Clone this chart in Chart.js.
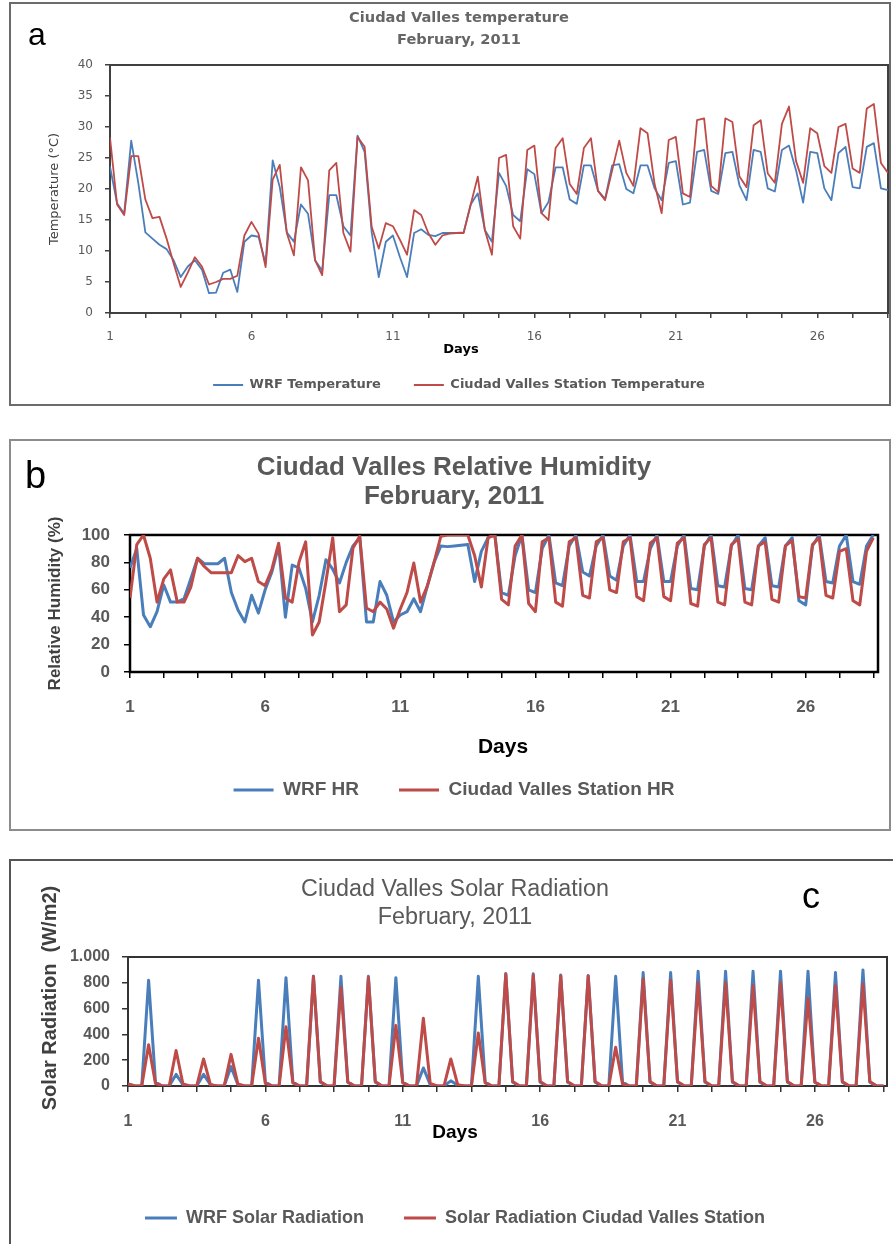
<!DOCTYPE html>
<html>
<head>
<meta charset="utf-8">
<script src="https://cdn.jsdelivr.net/npm/chart.js@4.4.1/dist/chart.umd.min.js"></script>
<style>
  body { margin: 0; background: #fff; }
  .panel { position: absolute; left: 0; width: 893px; }
</style>
</head>
<body>
<div class="panel" style="top:0;height:410px"><canvas id="TempChart"></canvas></div>
<div class="panel" style="top:435px;height:400px"><canvas id="HumChart"></canvas></div>
<div class="panel" style="top:855px;height:389px"><canvas id="RadChart"></canvas></div>
<script>
// 6-hourly samples, Feb 1 00 UTC .. Feb 28 12 UTC (111 values)
const steps = Array.from({length: 111}, (_, i) => i);
const dayTickLabels = ["1", "6", "11", "16", "21", "26"];

const tempWRF = [
  23.6, 17.7, 16, 27.8,   21, 13, 12, 11,   10.3, 8.5, 5.8, 7.5,   8.5, 7, 3.2, 3.3,
  6.5, 7, 3.4, 11.5,   12.5, 12.3, 8, 24.6,   20.3, 13, 11.5, 17.5,   16, 8.5, 6.8, 19,
  19, 14, 12.5, 28.6,   26, 13, 5.8, 11.5,   12.5, 9, 5.8, 12.9,   13.5, 12.6, 12.4, 12.9,
  12.9, 12.9, 13, 17.5,   19.3, 13.4, 11.5, 22.6,   20.5, 15.8, 14.8, 23.2,   22.4, 16.1, 17.9, 23.5,
  23.5, 18.3, 17.6, 23.8,   23.8, 19.7, 18.4, 23.8,   24, 20, 19.3, 23.8,   23.8, 20.1, 18.2, 24.2,
  24.5, 17.5, 17.8, 26,   26.3, 19.7, 19.2, 25.8,   26, 20.6, 18.2, 26.3,   26, 20.1, 19.6, 26.3,
  27, 23, 17.8, 26,   25.8, 20.1, 18.2, 25.8,   26.8, 20.3, 20.1, 26.8,   27.4, 20.1, 19.8
];
const tempStation = [
  28.3, 17.5, 15.8, 25.3,   25.3, 18.3, 15.3, 15.5,   12, 8, 4.2, 6.5,   9, 7.5, 4.6, 5,
  5.5, 5.5, 6, 12.5,   14.7, 12.8, 7.4, 21.5,   23.9, 12.9, 9.3, 23.5,   21.4, 8.5, 6.1, 23,
  24.2, 12.9, 9.9, 28.4,   26.8, 13.9, 10.4, 14.5,   14, 11.8, 9.4, 16.6,   15.8, 12.9, 11, 12.5,
  12.8, 12.9, 12.9, 17.5,   22, 13.4, 9.4, 25,   25.5, 14, 12, 26.3,   27, 16.1, 15, 26.6,
  28.2, 20.8, 19.2, 26.6,   28.2, 19.7, 18.2, 23,   27.8, 22.6, 20.5, 29.8,   29, 20.8, 16.1, 27.9,
  28.4, 19.3, 18.7, 31.1,   31.4, 20.5, 19.5, 31.4,   30.8, 22, 20.3, 30.3,   31.1, 22.5, 21, 30.5,
  33.3, 24.5, 21, 29.8,   29, 23.7, 22.6, 30,   30.5, 23.3, 22.6, 33,   33.7, 24.2, 22.6
];

const humWRF = [
  76, 90, 41.6, 33,   44, 63.5, 51, 51,   53.5, 68, 83, 79,   79, 79, 83, 58,
  45, 36.5, 56, 43,   60, 73, 92, 40,   78, 76, 61, 36.5,   56, 82, 75, 65,
  80, 92, 98, 36.5,   36.5, 66, 56, 36.5,   41.6, 44, 53.5, 44,   62.7, 80, 92, 91.5,
  92, 92.5, 93, 66,   88, 98, 100, 58,   56, 85, 100, 60,   58, 90, 100, 65,
  63, 92, 100, 73,   70, 92, 100, 70,   67, 92, 100, 66,   66, 90, 100, 66,
  66, 92, 100, 61,   60, 92, 100, 63,   62, 92, 100, 61,   60, 92, 98, 63,
  62, 92, 98, 52,   49, 92, 100, 66,   65, 92, 100, 66,   64, 92, 100
];
const humStation = [
  54, 93, 100, 83,   51, 68, 74.5, 51,   51, 62, 83, 77,   72.5, 72.5, 72.5, 72.5,
  85, 80.5, 83, 66,   63, 75, 94, 54,   51, 80, 95, 27,   36.5, 66, 98, 44,
  49, 90.5, 99, 46.7,   44, 51, 46, 32,   46, 58, 79.5, 51,   62.7, 80, 99, 100,
  100, 100, 100, 85,   62, 98, 100, 53,   49, 92, 100, 50,   44, 95, 98, 51,
  48, 95, 98, 56,   54, 95, 98, 60,   58, 95, 98, 55,   52, 94, 98, 55,
  52, 94, 98, 50,   48, 93, 98, 51,   49, 93, 97, 51,   49, 92, 95, 53,
  51, 92, 96, 55,   54, 93, 98, 56,   54, 88, 90, 52,   49, 88, 98
];

const radWRF = [
  15, 0, 0, 820,   30, 0, 0, 90,   10, 0, 0, 90,   10, 0, 0, 150,
  10, 0, 0, 820,   30, 0, 0, 840,   30, 0, 0, 850,   30, 0, 0, 850,
  30, 0, 0, 850,   30, 0, 0, 840,   30, 0, 0, 140,   10, 0, 0, 40,
  5, 0, 0, 850,   30, 0, 0, 870,   30, 0, 0, 870,   30, 0, 0, 860,
  30, 0, 0, 855,   30, 0, 0, 850,   30, 0, 0, 880,   30, 0, 0, 880,
  30, 0, 0, 890,   30, 0, 0, 890,   30, 0, 0, 890,   30, 0, 0, 890,
  30, 0, 0, 890,   30, 0, 0, 880,   30, 0, 0, 900,   30, 0, 0
];
const radStation = [
  15, 0, 0, 320,   20, 0, 0, 275,   15, 0, 0, 210,   10, 0, 0, 245,
  15, 0, 0, 370,   20, 0, 0, 460,   25, 0, 0, 850,   35, 0, 0, 765,
  30, 0, 0, 840,   35, 0, 0, 470,   25, 0, 0, 525,   20, 0, 0, 210,
  10, 0, 0, 410,   25, 0, 0, 870,   35, 0, 0, 860,   35, 0, 0, 855,
  35, 0, 0, 855,   35, 0, 0, 300,   15, 0, 0, 830,   35, 0, 0, 820,
  35, 0, 0, 800,   35, 0, 0, 800,   35, 0, 0, 780,   35, 0, 0, 800,
  35, 0, 0, 680,   30, 0, 0, 780,   35, 0, 0, 790,   35, 0, 0
];

const blue = "#4a7ebb";
const red = "#be4b48";

// frame, plot box and loose texts (panel letter, "Days")
function decor(d) {
  return {
    id: "decor",
    beforeDatasetsDraw(chart) {
      const ctx = chart.ctx, a = chart.chartArea;
      ctx.save();
      ctx.strokeStyle = d.boxColor;
      ctx.lineWidth = d.boxWidth;
      ctx.strokeRect(a.left, a.top, a.right - a.left, a.bottom - a.top);
      ctx.restore();
    },
    afterDraw(chart) {
      const ctx = chart.ctx;
      ctx.save();
      ctx.strokeStyle = d.frameColor;
      ctx.lineWidth = 2;
      ctx.beginPath();
      d.frame.forEach((p, i) => i ? ctx.lineTo(p[0], p[1]) : ctx.moveTo(p[0], p[1]));
      if (d.closed) ctx.closePath();
      ctx.stroke();
      d.texts.forEach(t => {
        ctx.save();
        ctx.font = t.css;
        ctx.fillStyle = t.fill || "#000";
        ctx.textAlign = t.align || "center";
        ctx.textBaseline = t.base || "middle";
        ctx.translate(t.x, t.y);
        if (t.rot) ctx.rotate(t.rot);
        ctx.fillText(t.text, 0, 0);
        ctx.restore();
      });
      ctx.restore();
    }
  };
}

function makeChart(id, c) {
  return new Chart(document.getElementById(id), {
    type: "line",
    data: {
      labels: steps,
      datasets: [
        { label: c.names[0], data: c.model, borderColor: blue, backgroundColor: blue, borderWidth: c.lw, order: 1 },
        { label: c.names[1], data: c.station, borderColor: red, backgroundColor: red, borderWidth: c.lw, order: 0 }
      ]
    },
    options: {
      responsive: true,
      maintainAspectRatio: false,
      animation: false,
      layout: { padding: c.pad, autoPadding: false },
      elements: { point: { radius: 0 }, line: { tension: 0, borderJoinStyle: "round" } },
      plugins: {
        tooltip: { enabled: false },
        title: {
          display: true,
          text: c.title,
          color: c.titleColor,
          font: c.titleFont,
          padding: c.titlePad
        },
        legend: {
          position: "bottom",
          labels: {
            usePointStyle: true,
            pointStyle: "line",
            pointStyleWidth: c.legLine,
            padding: c.legPad,
            color: "#595959",
            font: c.legFont,
            sort: (a, b) => a.datasetIndex - b.datasetIndex
          }
        }
      },
      scales: {
        x: {
          type: "linear",
          min: 0,
          max: c.xMax,
          afterFit: s => { s.height = c.xH; s.paddingLeft = 0; s.paddingRight = 0; },
          border: { display: false },
          grid: { drawOnChartArea: false, tickLength: c.tick, tickColor: c.boxColor, lineWidth: 1.5 },
          ticks: {
            stepSize: 5,
            maxTicksLimit: 100,
            autoSkip: false,
            includeBounds: false,
            maxRotation: 0,
            padding: c.xTickPad,
            color: "#595959",
            font: c.tickFont,
            callback: v => (v % 20 === 0 ? dayTickLabels[v / 20] : "")
          }
        },
        y: {
          min: c.yMin,
          max: c.yMax,
          afterFit: s => { s.width = c.yW; s.paddingTop = 0; s.paddingBottom = 0; },
          border: { display: false },
          grid: { drawOnChartArea: false, tickLength: c.tick, tickColor: c.boxColor, lineWidth: 1.5 },
          ticks: {
            stepSize: c.yStep,
            padding: c.yTickPad,
            color: "#595959",
            font: c.tickFont,
            callback: v => v.toLocaleString("de-DE")
          },
          title: {
            display: !!c.yTitle,
            text: c.yTitle,
            color: "#404040",
            font: c.yTitleFont,
            padding: { top: c.yTitlePad, bottom: 0 }
          }
        }
      }
    },
    plugins: [decor(c.decor)]
  });
}

let tempChart = makeChart("TempChart", {
  names: ["WRF Temperature", "Ciudad Valles Station Temperature"],
  model: tempWRF, station: tempStation, lw: 1.8,
  pad: { left: 30, right: 5, top: 0, bottom: 8.5 },
  title: ["Ciudad Valles temperature", "February, 2011"],
  titleColor: "#666",
  titleFont: { family: "DejaVu Sans", size: 14.6, weight: "bold", lineHeight: 1.507 },
  titlePad: { top: 7, bottom: 14 },
  legLine: 30, legPad: 33,
  legFont: { family: "DejaVu Sans", size: 13, weight: "bold" },
  xMax: 110, xH: 32.5, tick: 5, xTickPad: 12,
  tickFont: { family: "DejaVu Sans", size: 12 },
  yMin: 0, yMax: 40, yStep: 5, yW: 80, yTickPad: 12,
  yTitle: "Temperature (°C)", yTitleFont: { family: "DejaVu Sans", size: 13 }, yTitlePad: 17.2,
  boxColor: "#404040",
  decor: {
    boxColor: "#404040", boxWidth: 2, frameColor: "#6b6b6b", closed: true,
    frame: [[10, 3], [890, 3], [890, 405], [10, 405]],
    texts: [
      { text: "a", x: 28, y: 45, css: "32px 'Liberation Sans'", align: "left", base: "alphabetic" },
      { text: "Days", x: 461, y: 350, css: "bold 13px 'DejaVu Sans'" }
    ]
  }
});

let humChart = makeChart("HumChart", {
  names: ["WRF HR", "Ciudad Valles Station HR"],
  model: humWRF, station: humStation, lw: 3,
  pad: { left: 30, right: 15, top: 0, bottom: 25.5 },
  title: ["Ciudad Valles Relative Humidity", "February, 2011"],
  titleColor: "#595959",
  titleFont: { family: "Liberation Sans", size: 26, weight: "bold", lineHeight: 1.115 },
  titlePad: { top: 18.5, bottom: 23.5 },
  legLine: 40, legPad: 40,
  legFont: { family: "Liberation Sans", size: 19, weight: "bold" },
  xMax: 110.7, xH: 68.5, tick: 6, xTickPad: 18.8,
  tickFont: { family: "Liberation Sans", size: 17, weight: "bold" },
  yMin: 0, yMax: 100, yStep: 20, yW: 100, yTickPad: 14,
  yTitle: "Relative Humidity (%)", yTitleFont: { family: "Liberation Sans", size: 17, weight: "bold" }, yTitlePad: 14.8,
  boxColor: "#000",
  decor: {
    boxColor: "#000", boxWidth: 2.5, frameColor: "#8c8c8c", closed: true,
    frame: [[10, 5], [890, 5], [890, 395], [10, 395]],
    texts: [
      { text: "b", x: 25, y: 53, css: "38px 'Liberation Sans'", align: "left", base: "alphabetic" },
      { text: "Days", x: 503, y: 312, css: "bold 21px 'Liberation Sans'" }
    ]
  }
});

let radChart = makeChart("RadChart", {
  names: ["WRF Solar Radiation", "Solar Radiation Ciudad Valles Station"],
  model: radWRF, station: radStation, lw: 3,
  pad: { left: 23, right: 6, top: 0, bottom: 7 },
  title: ["Ciudad Valles Solar Radiation", "February, 2011"],
  titleColor: "#595959",
  titleFont: { family: "Liberation Sans", size: 23.3, weight: "normal", lineHeight: 1.2017 },
  titlePad: { top: 21, bottom: 25 },
  legLine: 32, legPad: 40,
  legFont: { family: "Liberation Sans", size: 18, weight: "bold" },
  xMax: 110.5, xH: 83, tick: 6, xTickPad: 20.4,
  tickFont: { family: "Liberation Sans", size: 16, weight: "bold" },
  yMin: 0, yMax: 1000, yStep: 200, yW: 105, yTickPad: 12,
  yTitle: "",
  boxColor: "#333",
  decor: {
    boxColor: "#333", boxWidth: 2, frameColor: "#555", closed: false,
    frame: [[10, 400], [10, 5], [893, 5]],
    texts: [
      { text: "c", x: 802, y: 53, css: "36px 'Liberation Sans'", align: "left", base: "alphabetic" },
      { text: "Days", x: 455, y: 278, css: "bold 19px 'Liberation Sans'" },
      { text: "Solar Radiation  (W/m2)", x: 50, y: 143, rot: -Math.PI / 2, css: "bold 20px 'Liberation Sans'", fill: "#404040" }
    ]
  }
});
</script>
</body>
</html>
